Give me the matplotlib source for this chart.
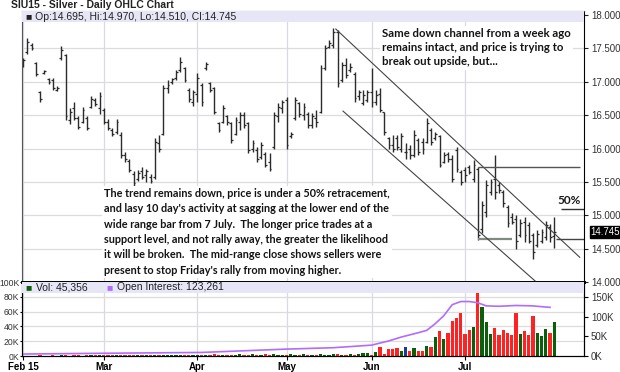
import numpy as np
import pandas as pd
import matplotlib
matplotlib.use('Agg')
import matplotlib.pyplot as plt
from matplotlib.patches import Rectangle
import matplotlib.transforms as mtransforms

# trading days, Feb 2 - Jul 31 2015
holidays = ['2015-02-16', '2015-04-03', '2015-05-25', '2015-07-03']
days = pd.bdate_range('2015-02-02', '2015-07-31')
days = days[~days.isin(pd.to_datetime(holidays))]
month_labels = ['Feb 15', 'Mar', 'Apr', 'May', 'Jun', 'Jul']

hi = [17.35, 17.66, 17.58, 17.30, 16.86, 17.18, 17.06, 17.05, 16.93, 17.53,
      17.42, 16.60, 16.70, 16.48, 16.62, 16.48, 16.78, 16.75, 16.84, 16.60,
      16.44, 16.30, 16.44, 16.24, 15.95, 15.85, 15.66, 15.68, 15.72, 15.70,
      15.62, 16.15, 16.20, 16.95, 17.03, 17.06, 17.18, 17.37, 17.22, 16.90,
      16.88, 17.13, 16.98, 17.30, 17.00, 16.92, 16.40, 16.65, 16.50, 16.40,
      16.47, 16.55, 16.55, 16.40, 16.13, 16.02, 16.10, 15.95, 15.93, 16.55,
      16.68, 16.73, 16.77, 16.25, 16.77, 16.70, 16.68, 16.55, 16.53, 16.58,
      17.25, 17.55, 17.63, 17.80, 17.78, 17.30, 17.35, 17.28, 17.15, 16.88,
      16.87, 16.88, 17.20, 16.88, 16.90, 16.55, 16.17, 16.20, 16.20, 16.23,
      16.08, 16.05, 16.27, 16.15, 16.15, 16.45, 16.30, 16.25, 16.20, 15.95,
      15.95, 15.90, 16.02, 15.68, 15.72, 15.75, 15.83, 15.72, 15.22, 15.53,
      15.55, 15.90, 15.50, 15.38, 15.15, 15.03, 15.00, 14.95, 14.97, 14.90,
      14.73, 14.78, 14.80, 14.92, 14.87, 14.97]
lo = [17.22, 17.42, 17.48, 17.08, 16.70, 17.12, 16.97, 16.87, 16.86, 17.32,
      16.42, 16.37, 16.42, 16.29, 16.38, 16.28, 16.60, 16.64, 16.52, 16.37,
      16.27, 16.18, 16.22, 15.86, 15.80, 15.65, 15.42, 15.52, 15.55, 15.50,
      15.48, 15.55, 15.95, 16.20, 16.83, 16.97, 17.02, 17.14, 16.99, 16.70,
      16.64, 16.70, 16.64, 17.18, 16.85, 16.52, 16.25, 16.38, 16.35, 16.08,
      16.20, 16.28, 16.30, 15.93, 15.95, 15.80, 15.85, 15.72, 15.66, 16.00,
      16.40, 16.53, 16.00, 16.15, 16.43, 16.47, 16.43, 16.30, 16.30, 16.32,
      16.53, 17.18, 17.50, 17.50, 16.92, 17.00, 17.05, 17.15, 16.70, 16.72,
      16.65, 16.70, 16.62, 16.65, 16.55, 16.20, 16.00, 15.95, 15.98, 15.95,
      15.85, 15.85, 15.87, 15.90, 15.92, 16.08, 16.05, 16.13, 15.72, 15.78,
      15.80, 15.50, 15.65, 15.45, 15.50, 15.62, 15.50, 14.63, 14.73, 14.97,
      15.30, 15.25, 15.33, 15.12, 14.82, 14.87, 14.50, 14.67, 14.60, 14.58,
      14.35, 14.52, 14.58, 14.63, 14.60, 14.51]
op = [17.24, 17.45, 17.55, 17.28, 16.84, 17.13, 17.04, 17.02, 16.88, 17.35,
      17.40, 16.42, 16.60, 16.45, 16.40, 16.45, 16.62, 16.72, 16.60, 16.58,
      16.40, 16.28, 16.25, 16.20, 15.90, 15.82, 15.62, 15.55, 15.66, 15.60,
      15.58, 15.58, 16.08, 16.22, 16.90, 17.00, 17.05, 17.18, 17.20, 16.88,
      16.70, 16.82, 16.95, 17.20, 16.98, 16.90, 16.38, 16.40, 16.48, 16.38,
      16.22, 16.40, 16.50, 16.38, 16.00, 15.98, 15.88, 15.92, 15.80, 16.02,
      16.48, 16.60, 16.72, 16.18, 16.45, 16.68, 16.50, 16.52, 16.35, 16.45,
      16.55, 17.20, 17.52, 17.55, 17.74, 17.02, 17.25, 17.18, 17.12, 16.78,
      16.68, 16.72, 16.85, 16.70, 16.82, 16.55, 16.15, 16.05, 16.15, 16.00,
      15.95, 16.00, 15.90, 16.12, 16.10, 16.10, 16.28, 16.15, 16.18, 15.80,
      15.92, 15.85, 15.98, 15.65, 15.68, 15.72, 15.55, 15.70, 14.80, 15.05,
      15.35, 15.55, 15.45, 15.35, 15.12, 14.98, 14.95, 14.70, 14.90, 14.85,
      14.70, 14.55, 14.62, 14.68, 14.82, 14.695]
cl = [17.32, 17.60, 17.50, 17.12, 16.74, 17.16, 17.00, 16.90, 16.91, 17.48,
      16.48, 16.55, 16.45, 16.32, 16.58, 16.30, 16.74, 16.66, 16.78, 16.40,
      16.30, 16.22, 16.40, 15.90, 15.84, 15.68, 15.48, 15.64, 15.58, 15.66,
      15.52, 16.10, 16.00, 16.90, 16.95, 17.04, 17.15, 17.30, 17.02, 16.74,
      16.85, 17.05, 16.70, 17.26, 16.88, 16.55, 16.28, 16.60, 16.40, 16.12,
      16.42, 16.50, 16.35, 15.98, 16.08, 15.85, 16.05, 15.76, 15.70, 16.50,
      16.62, 16.70, 16.05, 16.22, 16.72, 16.52, 16.62, 16.35, 16.48, 16.40,
      17.20, 17.50, 17.58, 17.75, 16.98, 17.25, 17.10, 17.22, 16.75, 16.84,
      16.80, 16.85, 16.70, 16.80, 16.58, 16.25, 16.05, 16.00, 16.02, 16.18,
      15.95, 15.90, 16.20, 15.95, 16.00, 16.38, 16.10, 16.22, 15.76, 15.90,
      15.84, 15.55, 15.70, 15.50, 15.60, 15.65, 15.75, 14.70, 15.15, 15.45,
      15.50, 15.35, 15.38, 15.18, 14.88, 14.90, 14.62, 14.88, 14.70, 14.62,
      14.45, 14.72, 14.75, 14.85, 14.68, 14.745]

# volume, thousands
vol = [0.5, 0.3, 0.4, 0.6, 0.8, 0.4, 0.5, 0.7, 0.4, 1.0, 0.8, 0.6, 0.9, 0.7, 0.5, 0.8, 1.2, 0.9, 0.7,
       1.2, 1.0, 0.8, 1.1, 1.5, 1.2, 0.9, 1.6, 1.1, 0.8, 1.3, 1.0, 1.5, 1.2, 0.9, 1.4, 1.1, 0.8, 1.2, 1.6, 1.3, 1.0,
       1.3, 1.8, 1.5, 1.9, 2.2, 1.7, 1.4, 2.0, 1.6, 1.5, 2.1, 1.8, 1.4, 2.4, 1.9, 1.6, 2.2, 1.8, 2.6, 2.0, 1.7,
       1.8, 2.3, 1.9, 1.6, 2.1, 1.7, 2.0, 1.5, 2.4, 2.0, 1.8, 2.6, 2.2, 1.7, 1.9, 2.3, 1.8, 2.1, 4.0, 3.5,
       1.5, 5.3, 12.4, 3.0, 9.3, 9.3, 10.7,
       6.7, 12.4, 6.7, 10.2, 6.7, 7.3, 13.8, 12.4, 25.8, 33.3, 23.5, 31.5, 46.7, 51.5, 58.2, 30.2, 34.7,
       39.1, 94.7, 65.8, 45.8, 29.3, 37.8, 28.0, 34.7, 31.1, 28.0, 58.7, 29.3, 33.3, 28.0, 53.8, 31.1,
       26.7, 36.9, 31.5, 45.4]

# open interest, thousands (read at these trading-day positions)
oi_day = [0, 20, 42, 62, 73, 82, 86, 89, 93, 95, 97, 99, 101, 103, 105, 107, 109, 112, 116, 120, 122, 124]
oi = [5, 7, 9, 17.5, 21, 27.5, 38, 48, 59, 65, 82, 102, 130, 138, 138, 135, 127, 126, 128, 127, 125, 123.3]

# channel and level lines (trading-day position, price)
upper_ch = ([73.6, 131.0], [17.79, 14.37])
lower_ch = ([75.3, 122.1], [16.56, 13.925])
jul7_hi, jul7_lo, fifty = 15.72, 14.64, 15.10

plt.rcParams['font.family'] = ['Liberation Sans', 'DejaVu Sans']

fig = plt.figure(figsize=(6.2, 3.72), dpi=100)
L, W = 22 / 620, 562 / 620
ax = fig.add_axes([L, 1 - 282 / 372, W, 271 / 372])
axv = fig.add_axes([L, 1 - 356 / 372, W, 74 / 372], sharex=ax)

x = np.arange(len(days))
mpos = [i for i in range(len(days)) if i == 0 or days[i].month != days[i - 1].month]

# price panel
for a in (ax, axv):
    for p in mpos:
        a.axvline(p, color='#d9d9e6', lw=0.9, zorder=0)
ax.set_ylim(14.0, 18.06)
ax.set_xlim(-0.24, 132)
pt = np.arange(14.0, 18.01, 0.5)
ax.set_yticks(pt, ['%.3f' % v for v in pt])
ax.yaxis.tick_right()
ax.tick_params(axis='y', labelsize=7, length=3, colors='#222', labelcolor='#333', pad=2)
ax.tick_params(axis='x', bottom=False, labelbottom=False)
for v in pt:
    ax.axhline(v, color='#dcdcdc', lw=0.9, zorder=0)

ax.vlines(x, lo, hi, color='#2b2b2b', lw=1.0)
ax.hlines(op, x - 0.45, x, color='#2b2b2b', lw=0.9)
ax.hlines(cl, x, x + 0.45, color='#2b2b2b', lw=0.9)

ax.plot(*upper_ch, color='#444', lw=0.8)
ax.plot(*lower_ch, color='#444', lw=0.8, clip_on=False, zorder=6)
ax.hlines(jul7_hi, 107, 131, color='#555', lw=1.0)
ax.hlines(jul7_lo, 107, 115, color='#7d8c7d', lw=1.6)
ax.hlines(jul7_lo, 125.5, 132, color='#444', lw=1.0)
ax.hlines(fifty, 126.5, 132, color='#333', lw=1.0, clip_on=False)
ax.text(128.6, fifty + 0.04, '50%', fontsize=8.5, fontweight='bold', family=['Lato', 'DejaVu Sans'],
        color='#1a1a1a', ha='center', va='bottom')

for s in ('left', 'top', 'right'):
    ax.spines[s].set_color('#555')
ax.spines['bottom'].set_linewidth(2)
ax.spines['bottom'].set_color('black')
ax.spines['right'].set_color('black')

# legend band, price
ax.add_patch(Rectangle((0, 1 - 11 / 271), 1, 11 / 271, transform=ax.transAxes,
                       facecolor='#e6e6f7', edgecolor='none', zorder=5))
ax.text(0.007, 1 - 5.5 / 271, '\u25a0 Op:14.695, Hi:14.970, Lo:14.510, Cl:14.745', transform=ax.transAxes,
        fontsize=7.5, va='center', ha='left', color='#222', zorder=6)

# last price box
tr = mtransforms.blended_transform_factory(ax.transAxes, ax.transData)
ax.text(1.012, cl[-1], '%.3f' % cl[-1], transform=tr, fontsize=7, color='white', va='center', ha='left',
        bbox=dict(boxstyle='square,pad=0.1', facecolor='black', edgecolor='black'), zorder=7)

# volume panel
vcol = ['#0b5e0b' if c > o else ('#1e3a8a' if c == o else '#ff2222') for o, c in zip(op, cl)]
axv.bar(x, vol, width=0.72, color=vcol, zorder=2)
axv.set_ylim(0, 100)
vt = np.arange(0, 101, 20)
axv.set_yticks(vt, ['%dK' % v for v in vt])
axv.tick_params(axis='y', labelsize=6.2, length=1.5, labelcolor='#333', pad=0.3)
for v in vt[1:]:
    axv.axhline(v, color='#dcdcdc', lw=0.9, zorder=0)
axv.set_xticks(mpos, month_labels)
axv.tick_params(axis='x', labelsize=7, length=3, pad=1)
for t in axv.get_xticklabels():
    t.set_fontweight('bold')
axv.spines['top'].set_linewidth(2)
axv.spines['top'].set_color('black')
axv.spines['bottom'].set_color('black')
axv.spines['left'].set_color('#555')

axo = axv.twinx()
axo.plot(oi_day, oi, color='#b06cff', lw=1.2)
axo.set_ylim(0, 187.5)
ot = np.arange(0, 151, 50)
axo.set_yticks(ot, ['%dK' % v for v in ot])
axo.tick_params(axis='y', labelsize=7, length=3, labelcolor='#333', pad=2)
axo.spines['top'].set_visible(False)

axo.add_patch(Rectangle((0, 1 - 11 / 74), 1, 11 / 74, transform=axo.transAxes,
                        facecolor='#e6e6f7', edgecolor='none', zorder=5))
axo.text(0.006, 1 - 5.5 / 74, '\u25a0', color='#0b5e0b', transform=axo.transAxes, fontsize=7.5,
         va='center', zorder=6)
axo.text(0.025, 1 - 5.5 / 74, 'Vol: 45,356', color='#222', transform=axo.transAxes, fontsize=7.5,
         va='center', zorder=6)
axo.text(0.150, 1 - 5.5 / 74, '\u25a0', color='#b06cff', transform=axo.transAxes, fontsize=7.5,
         va='center', zorder=6)
axo.text(0.169, 1 - 5.5 / 74, 'Open Interest: 123,261', color='#222', transform=axo.transAxes, fontsize=7.5,
         va='center', zorder=6)

fig.text(11 / 620, 1 - 5 / 372, 'SIU15 - Silver - Daily OHLC Chart', fontsize=7.5, fontweight='bold',
         va='center', ha='left', color='#222')

note_font = dict(fontweight='bold', family=['Lato', 'DejaVu Sans'], color='#141414',
                 va='top', ha='left', zorder=8)
box = dict(facecolor='white', edgecolor='none', pad=1.5)
fig.text(382 / 620, 1 - 28 / 372,
         'Same down channel from a week ago\nremains intact, and price is trying to\nbreak out upside, but...',
         bbox=box, fontsize=8.2, linespacing=1.36, **note_font)
fig.text(104 / 620, 1 - 188 / 372,
         "The trend remains down, price is under a 50% retracement,\n"
         "and lasy 10 day's activity at sagging at the lower end of the\n"
         "wide range bar from 7 July.  The longer price trades at a\n"
         "support level, and not rally away, the greater the likelihood\n"
         "it will be broken.  The mid-range close shows sellers were\n"
         "present to stop Friday's rally from moving higher.",
         bbox=box, fontsize=7.8, linespacing=1.48, **note_font)

fig.savefig('out.png', dpi=100)
